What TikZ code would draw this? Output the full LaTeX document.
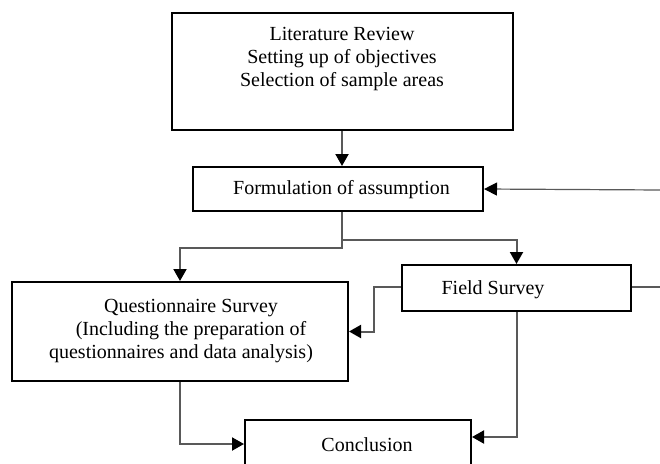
\documentclass[tikz,border=0pt]{standalone}
\usepackage{fontspec}
\setmainfont{Liberation Serif}
\usetikzlibrary{arrows.meta}
\tikzset{
  box/.style={draw=black, line width=2pt, fill=white, rectangle, inner sep=0pt},
  txt/.style={align=center, inner sep=0pt, font=\fontsize{20}{23}\selectfont},
  conn/.style={draw=black!65, line width=2pt, -{Triangle[length=12pt,width=13pt,color=black]}},
  plain/.style={draw=black!65, line width=2pt},
  thin/.style={draw=black!65, line width=1.2pt, -{Triangle[length=13pt,width=13pt,color=black]}}
}
\begin{document}
\begin{tikzpicture}[x=1pt,y=-1pt]
\useasboundingbox (0,0) rectangle (660,463);
\fill[white] (0,0) rectangle (660,463);
\clip (0,0) rectangle (660,463);
% boxes
\node[box, minimum width=341pt, minimum height=117pt] (lit) at (342.5,71.5) {};
\node[txt] (littxt) at (342,59) {Literature Review\\Setting up of objectives\\Selection of sample areas};
\node[box, minimum width=290pt, minimum height=44pt] (form) at (338,189) {};
\node[txt] (formtxt) at (341.5,190) {Formulation of assumption};
\node[box, minimum width=336pt, minimum height=99pt] (quest) at (180,331.5) {};
\node[txt] (questtxt) at (181,331) {\hspace*{20pt}Questionnaire Survey\\\hspace*{20pt}(Including the preparation of\\questionnaires and data analysis)};
\node[box, minimum width=229pt, minimum height=46pt] (field) at (516.5,288) {};
\node[txt] (fieldtxt) at (493,290) {Field Survey};
\node[box, minimum width=226pt, minimum height=60pt] (concl) at (358,450) {};
\node[txt] (concltxt) at (367,445) {Conclusion};
% free ends
\coordinate (fbin) at (662,190);
\coordinate (fbout) at (662,287);
% connectors
\draw[conn] (lit.south -| 342,0) -- (form.north -| 342,0);
\draw[conn] (form.south -| 342,0) -- ++(0,36) -| (quest.north);
\draw[conn] (form.south -| 342,0) ++(0,28) -| (field.north);
\draw[thin] (fbin) -- (form.east);
\draw[plain] (field.east |- fbout) -- (fbout);
\draw[conn] (field.west |- 0,287) -- ++(-27,0) |- (quest.east);
\draw[conn] (field.south) |- (concl.east |- 0,437);
\draw[conn] (quest.south) |- (concl.west |- 0,444);
\end{tikzpicture}
\end{document}
